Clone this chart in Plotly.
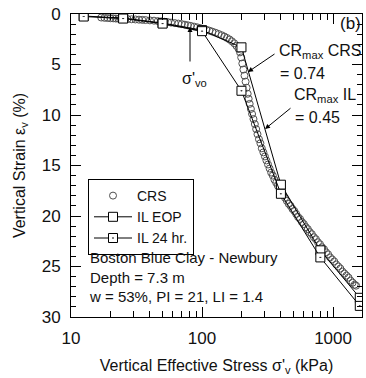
import plotly.graph_objects as go

# ---- data ----
crs_stress = [17, 18, 19, 20, 21, 22, 23, 24, 25, 27, 29, 31, 33, 35, 37, 40, 43, 46, 49, 52,
              55, 58, 62, 66, 70, 74, 78, 82, 87, 92, 97, 102, 108, 114, 120, 127, 134, 141,
              148, 155, 162, 169, 176, 183, 190, 195, 199, 203, 207, 211, 215, 219, 223, 227,
              231, 236, 241, 247, 253, 259, 265, 272, 279, 286, 294, 302, 310, 319, 328, 337,
              347, 357, 368, 379, 391, 403, 416, 430, 444, 459, 474, 490, 506, 523, 541, 560,
              579, 599, 620, 642, 665, 689, 714, 740, 767, 795, 824, 854, 885, 917, 950, 985,
              1021, 1058, 1097, 1137, 1179, 1222, 1267, 1313, 1361, 1411, 1463, 1500]
crs_strain = [0.35, 0.38, 0.40, 0.42, 0.43, 0.45, 0.46, 0.47, 0.48, 0.50, 0.52, 0.54, 0.56, 0.58,
              0.60, 0.63, 0.66, 0.70, 0.73, 0.77, 0.81, 0.85, 0.90, 0.95, 1.00, 1.06, 1.12, 1.18,
              1.25, 1.32, 1.40, 1.47, 1.56, 1.65, 1.75, 1.86, 1.98, 2.10, 2.23, 2.37, 2.52, 2.70,
              2.90, 3.15, 3.45, 3.80, 4.3, 4.9, 5.5, 6.1, 6.7, 7.3, 7.9, 8.4, 8.9, 9.4, 9.9, 10.4,
              10.9, 11.4, 11.9, 12.4, 12.8, 13.3, 13.7, 14.1, 14.5, 14.9, 15.3, 15.7, 16.0, 16.4,
              16.7, 17.0, 17.3, 17.6, 17.9, 18.2, 18.5, 18.8, 19.0, 19.3, 19.5, 19.8, 20.1, 20.3,
              20.6, 20.8, 21.1, 21.3, 21.6, 21.8, 22.1, 22.3, 22.6, 22.8, 23.1, 23.3, 23.6, 23.8,
              24.1, 24.3, 24.5, 24.8, 25.0, 25.2, 25.5, 25.7, 25.9, 26.1, 26.4, 26.6, 26.8, 26.9]

il_stress = [12.5, 25, 50, 100, 200, 400, 800, 1600]
il_eop_strain = [0.2, 0.4, 0.9, 1.6, 3.3, 16.9, 23.4, 28.1]
il_24_strain = [0.25, 0.45, 0.95, 1.7, 7.6, 17.8, 24.1, 28.9]

y_ticks = [0, 5, 10, 15, 20, 25, 30]
x_ticks = [10, 100, 1000]

FONT = "Liberation Sans, Arial, sans-serif"

# plot area in pixels
L, R, T, B = 71, 362, 14, 317


def px(xp):
    return (xp - L) / (R - L)


def py(yp):
    return (B - yp) / (B - T)


fig = go.Figure()
fig.add_trace(go.Scatter(
    x=crs_stress, y=crs_strain, mode="markers", name="CRS",
    marker=dict(symbol="circle-open", size=7, color="#505050", line=dict(width=1, color="#505050")),
))
fig.add_trace(go.Scatter(
    x=il_stress, y=il_eop_strain, mode="lines+markers", name="IL EOP",
    line=dict(color="black", width=1),
    marker=dict(symbol="square", size=9, color="white", line=dict(width=1, color="black")),
))
fig.add_trace(go.Scatter(
    x=il_stress, y=il_24_strain, mode="lines+markers", name="IL 24 hr.",
    line=dict(color="black", width=1),
    marker=dict(symbol="square-dot", size=9, color="white", line=dict(width=1, color="black")),
))

anns = []
# (b)
anns.append(dict(x=px(350), y=py(23), xref="paper", yref="paper", text="(b)", showarrow=False,
                 font=dict(size=17), xanchor="center", yanchor="middle"))
# sigma'vo arrow + label
anns.append(dict(x=px(190), y=py(27), xref="paper", yref="paper", text="", showarrow=True,
                 ax=0, ay=36, arrowhead=2, arrowsize=1, arrowwidth=1, arrowcolor="black"))
anns.append(dict(x=px(194), y=py(80), xref="paper", yref="paper", text="σ'<sub>vo</sub>",
                 showarrow=False, font=dict(size=16), xanchor="center", yanchor="middle"))
# CRmax CRS
anns.append(dict(x=px(277), y=py(51), xref="paper", yref="paper", text="CR<sub>max</sub> CRS",
                 showarrow=False, font=dict(size=16), xanchor="left", yanchor="middle"))
anns.append(dict(x=px(278), y=py(73), xref="paper", yref="paper", text="= 0.74",
                 showarrow=False, font=dict(size=16), xanchor="left", yanchor="middle"))
anns.append(dict(x=px(248), y=py(72), xref="paper", yref="paper", text="", showarrow=True,
                 ax=28, ay=-19, arrowhead=2, arrowsize=1, arrowwidth=1, arrowcolor="black"))
# CRmax IL
anns.append(dict(x=px(292), y=py(95), xref="paper", yref="paper", text="CR<sub>max</sub> IL",
                 showarrow=False, font=dict(size=16), xanchor="left", yanchor="middle"))
anns.append(dict(x=px(293), y=py(117), xref="paper", yref="paper", text="= 0.45",
                 showarrow=False, font=dict(size=16), xanchor="left", yanchor="middle"))
anns.append(dict(x=px(265), y=py(129), xref="paper", yref="paper", text="", showarrow=True,
                 ax=27, ay=-22, arrowhead=2, arrowsize=1, arrowwidth=1, arrowcolor="black"))
# info text
anns.append(dict(x=px(87), y=py(247), xref="paper", yref="paper",
                 text="Boston Blue Clay - Newbury<br>Depth = 7.3 m<br>w = 53%, PI = 21, LI = 1.4",
                 showarrow=False, font=dict(size=15), xanchor="left", yanchor="top", align="left"))

fig.update_layout(
    width=366, height=378,
    margin=dict(l=L, r=366 - R, t=T, b=378 - B),
    paper_bgcolor="white", plot_bgcolor="white",
    font=dict(family=FONT, size=16, color="#111111"),
    showlegend=True,
    legend=dict(x=px(88), y=py(179), xanchor="left", yanchor="top", xref="paper", yref="paper",
                bordercolor="black", borderwidth=1, bgcolor="white",
                font=dict(size=14), tracegroupgap=0, itemwidth=38),
    annotations=anns,
)

fig.update_xaxes(
    type="log", range=[1, 3.221], tickvals=x_ticks, ticktext=[str(v) for v in x_ticks],
    ticks="inside", ticklen=10, tickcolor="black", tickwidth=1,
    showline=True, linecolor="black", linewidth=1, mirror="allticks",
    showgrid=False, zeroline=False,
    minor=dict(ticks="inside", ticklen=6, tickcolor="black", tickwidth=1, showgrid=False,
               tickvals=[20, 30, 40, 50, 60, 70, 80, 90, 200, 300, 400, 500, 600, 700, 800, 900]),
    title=dict(text="Vertical Effective Stress σ'<sub>v</sub> (kPa)", standoff=12, font=dict(size=16)),
    tickfont=dict(size=17), ticklabelstandoff=6,
)
fig.update_yaxes(
    range=[30, 0], tickvals=y_ticks,
    ticks="inside", ticklen=10, tickcolor="black", tickwidth=1,
    showline=True, linecolor="black", linewidth=1, mirror="allticks",
    showgrid=False, zeroline=False,
    minor=dict(ticks="inside", ticklen=5, tickcolor="black", tickwidth=1, dtick=1, showgrid=False),
    title=dict(text="Vertical Strain ε<sub>v</sub> (%)", standoff=12, font=dict(size=16)),
    tickfont=dict(size=17), ticklabelstandoff=6,
)

fig.write_html("out.html")
